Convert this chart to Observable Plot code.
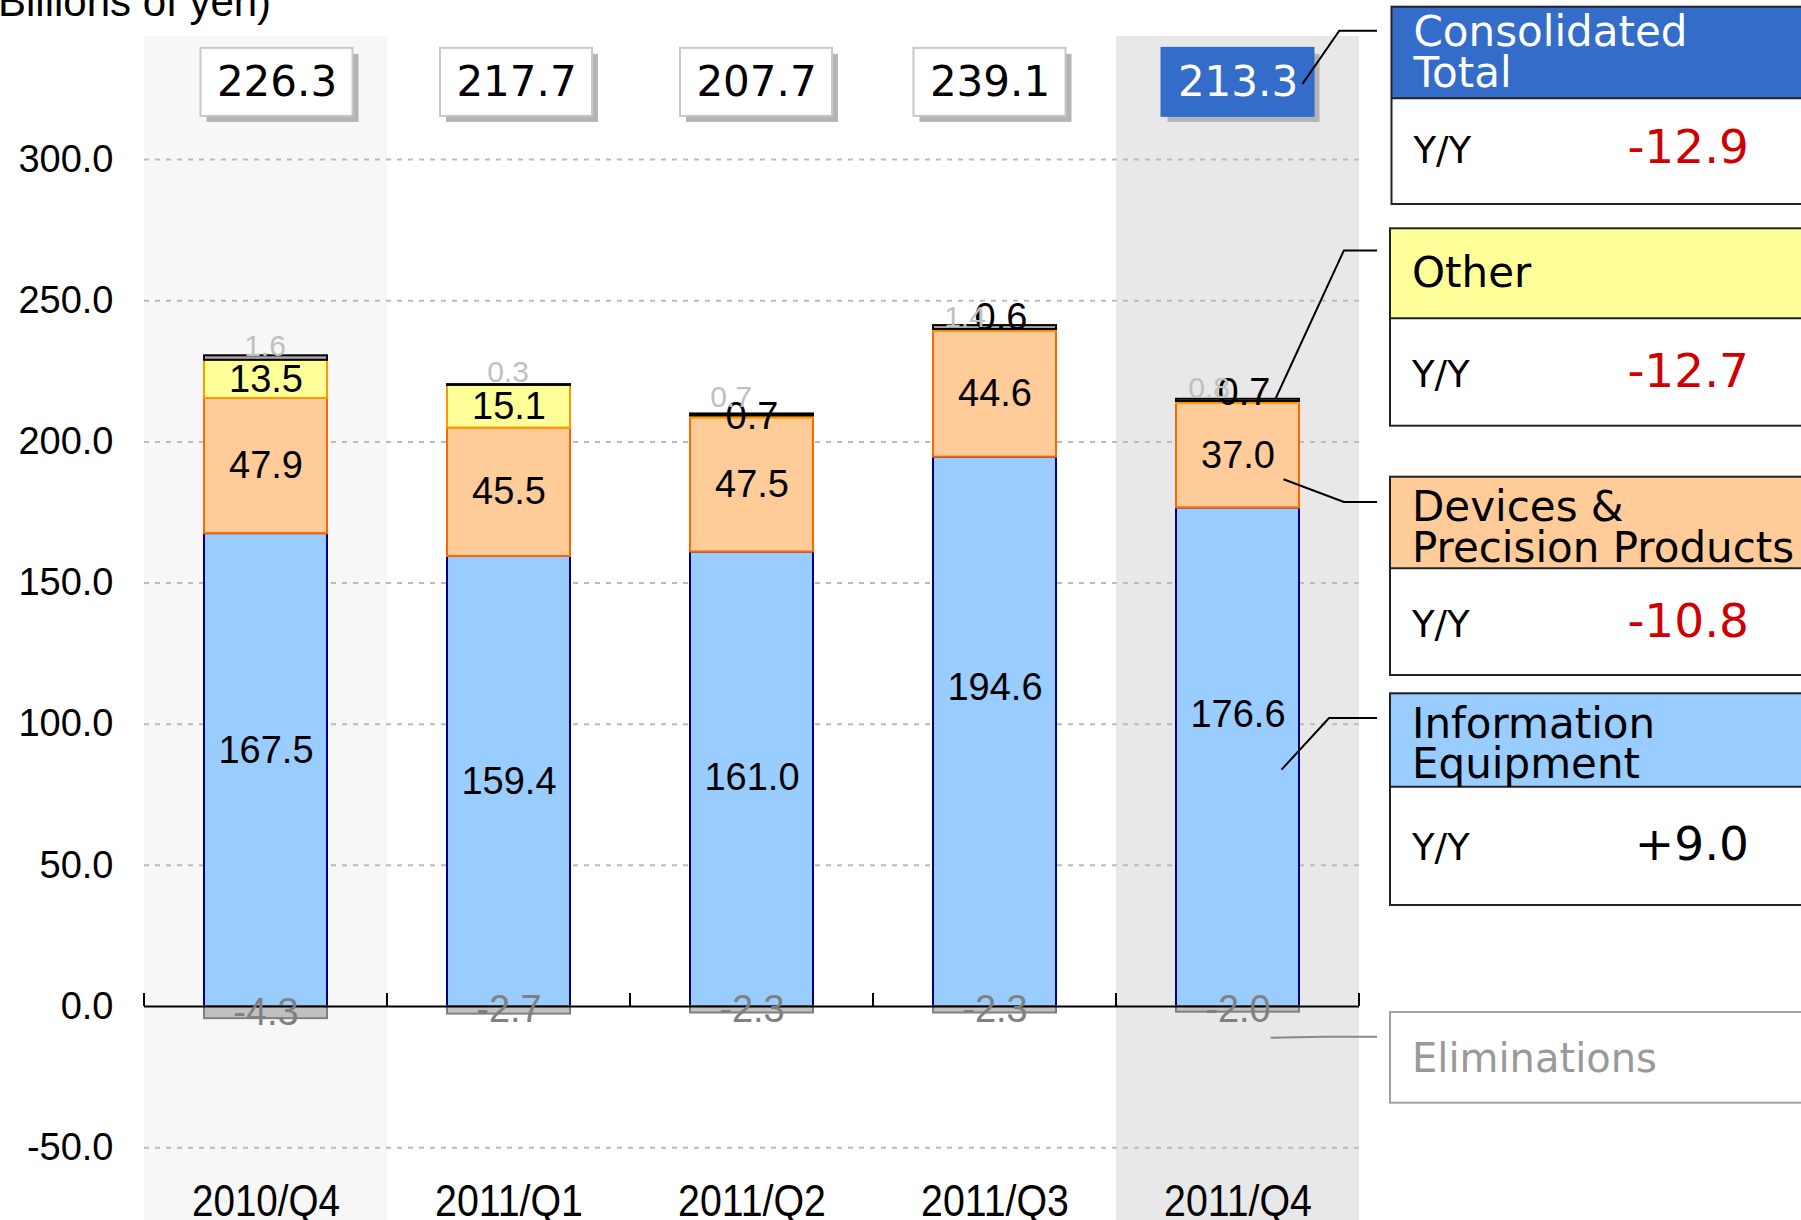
<!DOCTYPE html>
<html><head><meta charset="utf-8">
<script src="https://cdn.jsdelivr.net/npm/d3@7"></script>
<script src="https://cdn.jsdelivr.net/npm/@observablehq/plot@0.6"></script>
<style>body{margin:0;background:#fff}</style>
</head><body><div id="chart"></div>
<script>
// ---------- data ----------
const categories = ["2010/Q4", "2011/Q1", "2011/Q2", "2011/Q3", "2011/Q4"];
const infoEquipment = [167.5, 159.4, 161.0, 194.6, 176.6];
const devicesPrecision = [47.9, 45.5, 47.5, 44.6, 37.0];
const otherSeg = [13.5, 15.1, 0.7, 0.6, 0.7];
const smallSeg = [1.6, 0.3, 0.7, 1.4, 0.8];
const eliminations = [-4.3, -2.7, -2.3, -2.3, -2.0];
const totals = [226.3, 217.7, 207.7, 239.1, 213.3];
const yTicks = [-50, 0, 50, 100, 150, 200, 250, 300];
const legendNames = [["Consolidated", "Total"], ["Other"], ["Devices &", "Precision Products"], ["Information", "Equipment"], ["Eliminations"]];
const legendYoY = ["-12.9", "-12.7", "-10.8", "+9.0", null];
const unitLabel = "(Billions of yen)";

// ---------- styles / layout ----------
const styles = {
  info:  {fill: "#99CCFF", stroke: "#000080", ink: "#000", size: 38},
  dev:   {fill: "#FFCC99", stroke: "#FF6600", ink: "#000", size: 38},
  other: {fill: "#FFFF99", stroke: "#FF9900", ink: "#000", size: 38},
  small: {fill: "#A6A6A6", stroke: "#000000", ink: "#C0C0C0", size: 30},
  elim:  {fill: "#C0C0C0", stroke: "#808080", ink: "#808080", size: 38}
};
const labelOffsets = {
  info:  {dx: [0, 0, 0, 0, 0], dy: [-19, 0, -1, -44, -42]},
  dev:   {dx: [0, 0, 0, 0, 0], dy: [0, 0, 0, 0, 0]},
  other: {dx: [0, 0, 0, 6, 6], dy: [0, 0, 0, -13, -10]},
  small: {dx: [-1, -1, -21, -30, -29], dy: [-9, -12, -17, -8, -11]},
  elim:  {dx: [0, 0, 0, 0, 0], dy: [0, 0, 0, 0, 0]}
};
const totalDx = [11, 7.5, 4.5, -5, 0];
const BOX_TOP = 339.4, BOX_BOTTOM = 315.3; // y range of the total label boxes (axis units)

// ---------- build stacked segments ----------
const seriesList = [["info", infoEquipment], ["dev", devicesPrecision], ["other", otherSeg], ["small", smallSeg]];
const segments = [];
categories.forEach((cat, i) => {
  let base = 0;
  for (const [key, vals] of seriesList) {
    const v = vals[i];
    segments.push({cat, i, key, value: v, y1: base, y2: base + v, fill: styles[key].fill, stroke: styles[key].stroke});
    base += v;
  }
  const e = eliminations[i];
  segments.push({cat, i, key: "elim", value: e, y1: 0, y2: e, fill: styles.elim.fill, stroke: styles.elim.stroke});
});

const labelMarks = segments.map(s => {
  const st = styles[s.key], off = labelOffsets[s.key];
  const yAcc = s.key === "small" ? (d => d.y2) : (d => (d.y1 + d.y2) / 2);
  return Plot.text([s], {
    x: "cat", y: yAcc, text: d => d.value.toFixed(1),
    dx: off.dx[s.i], dy: off.dy[s.i], fill: st.ink, fontSize: st.size
  });
});

const totalRows = categories.map((cat, i) => ({cat, i, total: totals[i]}));
const totalMarks = totalRows.flatMap(r => {
  const last = r.i === categories.length - 1;
  const off = totalDx[r.i];
  return [
    Plot.barY([r], {x: "cat", y1: BOX_BOTTOM, y2: BOX_TOP, insetLeft: 45.5 + off, insetRight: 45.5 - off, dx: 6, dy: 6, fill: "#B4B4B4"}),
    Plot.barY([r], {x: "cat", y1: BOX_BOTTOM, y2: BOX_TOP, insetLeft: 45.5 + off, insetRight: 45.5 - off,
      fill: last ? "#336CC9" : "#fff", stroke: last ? "#336CC9" : "#C8C8C8", strokeWidth: 2}),
    Plot.text([r], {x: "cat", y: (BOX_TOP + BOX_BOTTOM) / 2, text: d => d.total.toFixed(1), dx: off,
      fill: last ? "#fff" : "#000", fontSize: 42, fontFamily: "DejaVu Sans"})
  ];
});

const plot = Plot.plot({
  width: 1801, height: 1220,
  marginTop: 36, marginBottom: 0, marginLeft: 144, marginRight: 442,
  x: {type: "band", domain: categories, padding: 0, axis: null},
  y: {domain: [-75.8, 343.6], axis: null},
  color: {type: "identity"},
  style: {fontFamily: "'Liberation Sans', Arial, sans-serif", fontSize: "38px", background: "#fff", overflow: "visible", color: "#000"},
  marks: [
    Plot.cell([categories[0]], {x: d => d, fill: "#F7F7F7", inset: 0}),
    Plot.cell([categories[categories.length - 1]], {x: d => d, fill: "#E8E8E8", inset: 0}),
    Plot.gridY(yTicks.filter(d => d !== 0), {stroke: "#BBBBBB", strokeOpacity: 1, strokeWidth: 2, strokeDasharray: "5,6"}),
    Plot.axisY(yTicks, {tickSize: 0, tickPadding: 31, tickFormat: d => d.toFixed(1), fontSize: 38, label: null}),
    Plot.barY(segments, {x: "cat", y1: "y1", y2: "y2", fill: "fill", stroke: "stroke", strokeWidth: 2, insetLeft: 60, insetRight: 60}),
    Plot.ruleY([0], {stroke: "#000", strokeWidth: 2}),
    ...labelMarks,
    ...totalMarks,
    Plot.text(categories, {x: d => d, frameAnchor: "bottom", lineAnchor: "bottom", dy: -5, text: d => d, fontSize: 44})
  ]
});
document.getElementById("chart").appendChild(plot);

// ---------- post-processing with the plot's own scales ----------
const xs = plot.scale("x"), ys = plot.scale("y");
const bw = xs.bandwidth;
const svg = d3.select(plot);

// condensed category labels
svg.selectAll("text").filter(function() { return categories.includes(this.textContent); })
  .attr("textLength", 148).attr("lengthAdjust", "spacingAndGlyphs");

// axis ticks at category boundaries
const bounds = categories.map(c => xs.apply(c)).concat([xs.apply(categories[categories.length - 1]) + bw]);
const tg = svg.append("g");
bounds.forEach(bx => {
  tg.append("line").attr("x1", bx).attr("x2", bx).attr("y1", ys.apply(0)).attr("y2", ys.apply(0) - 13)
    .attr("stroke", "#000").attr("stroke-width", 2);
});

// unit label (partially cropped in the original)
svg.append("text").attr("x", -16).attr("y", 16).attr("font-size", 42).attr("fill", "#000").attr("text-anchor", "start")
  .attr("font-family", "'Liberation Sans', Arial, sans-serif").text(unitLabel);

// legend panel
const legendLayout = [
  {top: 6.7, mid: 98.3, bottom: 204, left: 1391.5, lines: [45.7, 87.3], yoyY: 163.3, head: "#336CC9", ink: "#fff", border: "#222", size: 42},
  {top: 228.3, mid: 318.3, bottom: 425.7, left: 1390, lines: [287.3], yoyY: 386.7, head: "#FFFF99", ink: "#000", border: "#222", size: 42},
  {top: 476.7, mid: 568.3, bottom: 675, left: 1390, lines: [521, 561.7], yoyY: 636.7, head: "#FFCC99", ink: "#000", border: "#222", size: 42},
  {top: 693.3, mid: 786.7, bottom: 905, left: 1390, lines: [737.7, 778.3], yoyY: 860, head: "#99CCFF", ink: "#000", border: "#222", size: 42},
  {top: 1012, mid: null, bottom: 1102.7, left: 1390, lines: [1071.6], yoyY: null, head: "#fff", ink: "#999", border: "#A0A0A0", size: 40}
];
const lg = svg.append("g").attr("font-family", "'DejaVu Sans', Verdana, sans-serif").attr("text-anchor", "start");
legendLayout.forEach((L, k) => {
  const headBottom = L.mid ?? L.bottom;
  lg.append("rect").attr("x", L.left).attr("y", L.top).attr("width", 500).attr("height", headBottom - L.top).attr("fill", L.head);
  if (L.mid != null) {
    lg.append("rect").attr("x", L.left).attr("y", L.mid).attr("width", 500).attr("height", L.bottom - L.mid).attr("fill", "#fff");
    lg.append("line").attr("x1", L.left).attr("x2", L.left + 500).attr("y1", L.mid).attr("y2", L.mid).attr("stroke", L.border).attr("stroke-width", 2);
  }
  lg.append("rect").attr("x", L.left).attr("y", L.top).attr("width", 500).attr("height", L.bottom - L.top)
    .attr("fill", "none").attr("stroke", L.border).attr("stroke-width", 2);
  legendNames[k].forEach((t, j) => {
    lg.append("text").attr("x", L.left + 22).attr("y", L.lines[j]).attr("text-anchor", "start")
      .attr("font-size", L.size).attr("fill", L.ink).text(t);
  });
  if (legendYoY[k] != null) {
    lg.append("text").attr("x", L.left + 22).attr("y", L.yoyY).attr("text-anchor", "start").attr("font-size", 37).attr("fill", "#000").text("Y/Y");
    lg.append("text").attr("x", 1749).attr("y", L.yoyY).attr("text-anchor", "end").attr("font-size", 47)
      .attr("fill", legendYoY[k].startsWith("-") ? "#D00000" : "#000").text(legendYoY[k]);
  }
});

// connector lines (start points via the plot's scales)
const lastCat = categories[categories.length - 1], li = categories.length - 1;
const cx = xs.apply(lastCat) + bw / 2;
const segOf = key => segments.find(s => s.cat === lastCat && s.key === key);
const connectors = [
  {from: [cx + 65, ys.apply((BOX_TOP + BOX_BOTTOM) / 2) + 2], elbow: [1339.3, 30.7], end: 1377, y: 30.7, color: "#000"},
  {from: [cx + 38, ys.apply(segOf("small").y2)], elbow: [1343.9, 250.4], end: 1377, y: 250.4, color: "#000"},
  {from: [cx + 46, ys.apply(segOf("dev").y1 + 0.27 * devicesPrecision[li])], elbow: [1343.9, 502], end: 1377, y: 502, color: "#000"},
  {from: [cx + 44, ys.apply(0.474 * infoEquipment[li])], elbow: [1329, 718], end: 1377, y: 718, color: "#000"},
  {from: [cx + 33, ys.apply(eliminations[li]) + 26], elbow: [1323, 1036.7], end: 1377, y: 1036.7, color: "#888"}
];
const cg = svg.append("g");
connectors.forEach(c => {
  cg.append("polyline").attr("points", [c.from, c.elbow, [c.end, c.y]].map(p => p.join(",")).join(" "))
    .attr("fill", "none").attr("stroke", c.color).attr("stroke-width", 2);
});
</script>
</body></html>
